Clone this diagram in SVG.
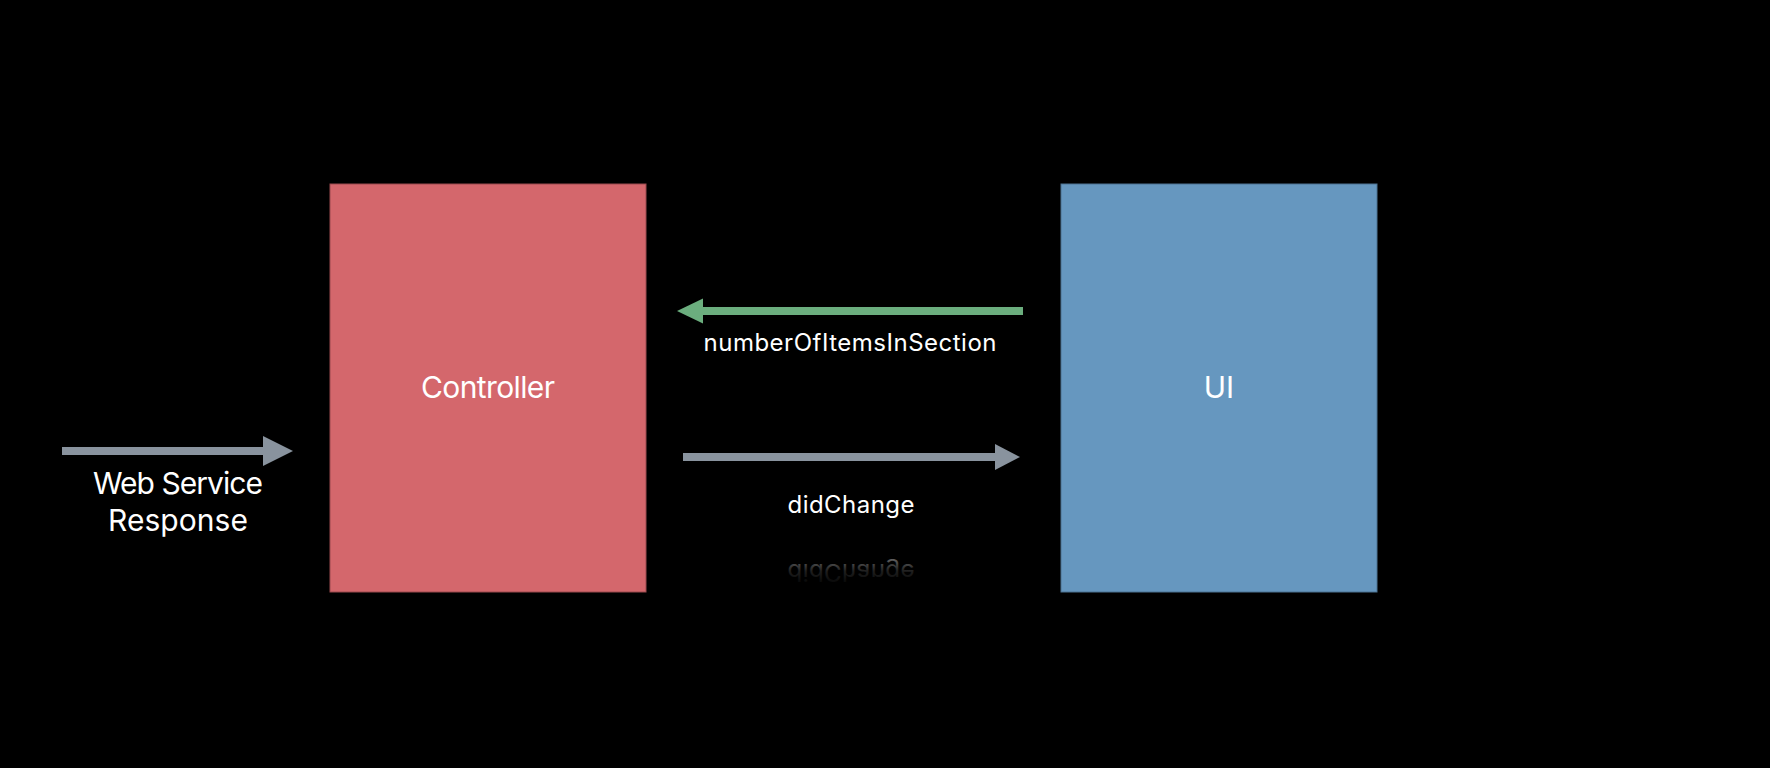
<svg xmlns="http://www.w3.org/2000/svg" width="1770" height="768" viewBox="0 0 1770 768">
  <style>
    .lbl { font-family: "Inter", "Liberation Sans", sans-serif; fill: #ffffff; text-anchor: middle; }
    .big { font-size: 30px; }
    .small { font-size: 24px; }
    .gray { fill: none; stroke: #89939E; stroke-width: 8; }
    .green { fill: none; stroke: #6BAE7E; stroke-width: 8; }
  </style>
  <defs>
    <linearGradient id="fade" x1="0" y1="0" x2="0" y2="1">
      <stop offset="0" stop-color="#ffffff" stop-opacity="0"/>
      <stop offset="0.55" stop-color="#ffffff" stop-opacity="0.12"/>
      <stop offset="1" stop-color="#ffffff" stop-opacity="0.4"/>
    </linearGradient>
  </defs>
  <rect x="0" y="0" width="1770" height="768" fill="#000000"/>

  <g id="controller">
    <rect x="330" y="184" width="316" height="408" fill="#D4676C" stroke="#9a4a4e" stroke-width="1"/>
    <text class="lbl big" x="488" y="398" textLength="134">Controller</text>
  </g>

  <g id="ui">
    <rect x="1061" y="184" width="316" height="408" fill="#6697BF" stroke="#4d7392" stroke-width="1"/>
    <text class="lbl big" x="1219" y="398">UI</text>
  </g>

  <g id="connectors">
    <g id="web-service-response">
      <line class="gray" x1="62" y1="451" x2="265" y2="451"/>
      <polygon points="263,436 293,451 263,466" fill="#89939E"/>
      <text class="lbl big" x="178" y="494" textLength="170">Web Service</text>
      <text class="lbl big" x="178" y="531" textLength="140">Response</text>
    </g>
    <g id="number-of-items">
      <line class="green" x1="1023" y1="311" x2="700" y2="311"/>
      <polygon points="703,298.5 677,311 703,323.5" fill="#6BAE7E"/>
      <text class="lbl small" x="850" y="351" textLength="293">numberOfItemsInSection</text>
    </g>
    <g id="did-change">
      <line class="gray" x1="683" y1="457" x2="998" y2="457"/>
      <polygon points="995,444 1020,457 995,470" fill="#89939E"/>
      <text class="lbl small" x="851" y="513" textLength="127">didChange</text>
      <text x="851" y="513" textLength="127" transform="translate(0,1077) scale(1,-1)" style="font-family: 'Inter', 'Liberation Sans', sans-serif; font-size: 24px; text-anchor: middle; fill: url(#fade);">didChange</text>
    </g>
  </g>
</svg>
